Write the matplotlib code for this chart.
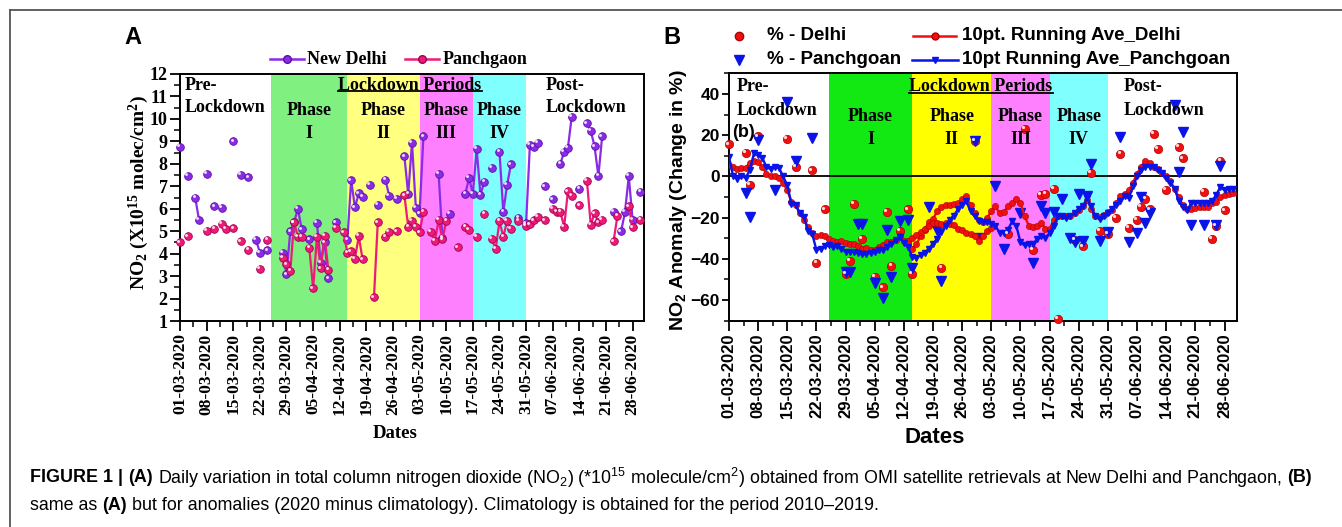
import numpy as np
import matplotlib
matplotlib.use("Agg")
import matplotlib.pyplot as plt
from matplotlib.lines import Line2D
from matplotlib.transforms import offset_copy
from matplotlib.ticker import MultipleLocator

plt.rcParams['mathtext.default'] = 'regular'
SERIF = 'Liberation Serif'
SANS = 'Liberation Sans'

# ---------------- data (day index 0 = 01-03-2020) ----------------
tick_labels = ['01-03-2020', '08-03-2020', '15-03-2020', '22-03-2020', '29-03-2020',
               '05-04-2020', '12-04-2020', '19-04-2020', '26-04-2020', '03-05-2020',
               '10-05-2020', '17-05-2020', '24-05-2020', '31-05-2020', '07-06-2020',
               '14-06-2020', '21-06-2020', '28-06-2020']
phase_names = ['I', 'II', 'III', 'IV']
phase_start = [24, 44, 63, 77]
phase_end = [44, 63, 77, 91]

# Panel A: NO2 column (x10^15 molec/cm2)
delhi_days = [0, 2, 4, 5, 7, 9, 11, 14, 16, 18, 20, 21, 23, 27, 28, 29, 30, 31, 32, 34,
              36, 37, 38, 39, 41, 44, 45, 46, 47, 48, 50, 52, 54, 55, 57, 59, 60, 61, 62, 63,
              64, 68, 69, 71, 75, 76, 77, 78, 79, 80, 82, 84, 85, 86, 87, 89, 91, 92, 93, 94,
              96, 98, 100, 101, 102, 103, 105, 107, 108, 109, 110, 111, 114, 116, 117, 118, 119, 121]
delhi_no2 = [8.75, 7.45, 6.5, 5.5, 7.55, 6.1, 6.05, 9.0, 7.5, 7.4, 4.6, 4.05, 4.15, 4.03, 3.08, 5.0, 5.4, 6.0, 5.08, 4.63,
             5.37, 3.6, 4.5, 2.9, 5.4, 4.6, 7.27, 6.06, 6.68, 6.54, 7.05, 6.17, 7.3, 6.58, 6.43, 8.33, 6.65, 8.94, 6.05, 5.8,
             9.22, 7.55, 4.7, 5.78, 6.65, 7.37, 6.66, 8.66, 6.62, 7.2, 7.83, 8.53, 5.86, 7.05, 7.97, 5.6, 5.35, 8.85, 8.77, 8.92,
             7.0, 6.42, 8.0, 8.53, 8.72, 10.1, 6.9, 9.8, 9.47, 8.78, 7.45, 9.23, 5.85, 5.0, 5.85, 7.45, 5.5, 6.75]
panch_days = [0, 2, 7, 9, 11, 12, 14, 16, 18, 21, 23, 27, 28, 29, 30, 31, 32, 34, 35, 36,
              37, 38, 39, 41, 43, 44, 45, 46, 47, 48, 51, 52, 54, 55, 57, 59, 60, 61, 62, 63,
              64, 66, 67, 68, 69, 70, 73, 75, 76, 78, 80, 82, 83, 84, 85, 86, 87, 89, 91, 92,
              93, 94, 96, 98, 99, 100, 101, 102, 103, 105, 107, 108, 109, 110, 111, 114, 115, 118, 119, 121]
panch_no2 = [4.5, 4.77, 5.02, 5.1, 5.33, 5.1, 5.12, 4.55, 4.18, 3.32, 4.6, 3.8, 3.53, 3.24, 5.4, 4.75, 4.75, 4.25, 2.45, 4.75,
             3.35, 4.8, 3.28, 5.15, 4.95, 4.05, 4.1, 3.78, 4.78, 3.75, 2.05, 5.39, 4.75, 4.98, 5.0, 6.6, 5.2, 5.45, 5.2, 4.95,
             5.85, 4.97, 4.56, 5.5, 4.63, 5.46, 4.28, 5.19, 5.05, 4.75, 5.78, 4.65, 4.2, 5.45, 4.75, 5.45, 5.1, 5.45, 5.25, 5.3,
             5.48, 5.63, 5.48, 6.0, 5.86, 5.86, 5.2, 6.78, 6.57, 6.15, 7.23, 5.28, 5.8, 5.4, 5.5, 4.55, 5.67, 6.1, 5.17, 5.5]

# Panel B: anomaly (%)
delhi_pct_days = [0, 4, 5, 7, 14, 16, 20, 21, 23, 28, 29, 30, 32, 35, 37, 38, 39, 41, 43, 44,
                  51, 59, 67, 71, 73, 75, 76, 78, 79, 83, 85, 87, 89, 91, 93, 94, 96, 98, 99, 100,
                  101, 102, 103, 105, 108, 109, 114, 116, 117, 118, 119]
delhi_pct = [15.5, 11.5, -4, 19.4, 18.2, 4.5, 2.9, -42, -16, -47.4, -41, -13.2, -30.2, -48.7, -53.9, -17.1, -43.4, -26.5, -16, -47.4,
             -44.5, 17.4, -28, 23, -35.5, -9, -8.5, -6, -69, -31, -34, 1.5, -26.5, -28, -20, 11, -25, -21, -15, -11,
             -16, 20.5, 13.3, -6.5, 14.5, 8.7, -7.5, -30.5, -24, 7.4, -16.5]
panch_pct_days = [4, 5, 7, 11, 14, 16, 20, 28, 29, 31, 32, 35, 37, 38, 39, 41, 43, 44, 48, 50,
                  51, 59, 60, 64, 66, 70, 73, 75, 76, 78, 80, 82, 83, 84, 85, 86, 87, 89, 91, 94,
                  96, 98, 99, 100, 101, 107, 108, 109, 111, 114, 117, 118]
panch_pct = [-8, -19.7, 17.7, -6.5, 36, 7.4, 18.5, -46.3, -46.3, -23.2, -23.2, -51.9, -58.9, -26, -48.7, -21.8, -21, -44.7, -15, -26,
             -51, 17.2, -30, -4.5, -35, -18, -42, -14.5, -18, -17.3, -11, -30, -32, -8.4, -31.5, -9.7, 5.8, -31.5, -27, 19,
             -32, -27.5, -10, -22.7, -17.8, 34.5, 2, 21.5, -23.5, -23.5, -23.5, 4.9]

# 10-pt running averages, one value per day 0..121
ave_delhi = [5.6, 4.5, 3.5, 4.2, 4.2, 6.5, 7.4, 6.9, 4.5, 1.3,
             0.3, 0, -0.6, -3.2, -6.8, -12.4, -14, -18, -21.3, -24.5,
             -27.7, -28.9, -28.5, -28.9, -30.6, -31.3, -31.8, -31.3, -32.3, -32.9,
             -32.9, -33.9, -35, -34.7, -35.5, -35.8, -34.5, -33.4, -31.8, -31.8,
             -31, -28.9, -31.3, -31.3, -35, -33, -29, -26, -22, -20.5,
             -17, -15, -14, -14, -13.5, -13, -11, -9.6, -14, -18,
             -21, -22, -20, -17, -14.5, -18, -17.4, -14.5, -12.9, -11,
             -12.9, -19.4, -23.9, -24.5, -23.9, -22.6, -25.5, -25.5, -21, -19.4,
             -19, -19.4, -19.4, -17.7, -16.1, -14.5, -11.3, -15.8, -19.4, -19.7,
             -18.5, -17.4, -16.1, -12.9, -9.7, -8.4, -6.8, -3.2, 1.3, 4.8,
             7.7, 6.5, 4.8, 3.5, 1.6, 0, -2.4, -6, -10, -14,
             -16, -16, -15.5, -15, -15, -15, -13, -12.5, -10, -9,
             -8.5, -8]
ave_delhi_b_days = [43, 44, 45, 46, 47, 48, 49, 50, 51, 52, 53, 54, 55, 56, 57, 58, 59, 60, 61, 62, 63]
ave_delhi_b = [-31.3, -30, -28.5, -27, -25.5, -24, -22.5, -22.5, -23, -22.6, -22.9, -23.4, -25.5, -25.8,
               -27.4, -28, -29, -31.5, -29, -26.6, -25]
ave_panch = [9.4, 0, -1.1, 0, -0.6, 2.9, 11.3, 10.2, 9, 4.5,
             3.5, 4.5, 4.2, 0, -4.4, -13.2, -13.7, -17.7, -19.7, -26.5,
             -28, -35.8, -35, -33.9, -33.4, -34.2, -33.9, -35, -36.6, -36.6,
             -36.6, -37.4, -37.9, -37.9, -37, -36.6, -35.8, -35.8, -34.2, -32.6,
             -31, -29.4, -32.3, -34.2, -39, -39.8, -38.2, -37, -35, -32.6,
             -30.2, -27, -24, -21, -19, -16, -14, -12, -17, -19.4,
             -21.8, -22.3, -22, -23, -24, -27.4, -27.4, -25.8, -21.8, -24,
             -32, -33.5, -32.6, -32.6, -30.6, -29, -29.8, -27.4, -24, -19.4,
             -19.4, -20, -19, -18, -16, -14.5, -10.5, -14.5, -19.4, -20.6,
             -19.4, -17.7, -16, -13.7, -12, -9.7, -10.5, -4.8, 0, 3.2,
             4.8, 4.8, 4.5, 3.2, 1.6, -0.8, -3.2, -6, -11.7, -15,
             -16.5, -13, -13, -13, -13, -13, -11.7, -9.2, -5, -6.8,
             -6, -6]

# ---------------- figure ----------------
W, H = 1342, 527
fig = plt.figure(figsize=(W / 100, H / 100), dpi=100)


def fx(px):
    return px / W


def fy(py):
    return 1 - py / H


axA = fig.add_axes([fx(180), fy(321), fx(644) - fx(180), fy(74) - fy(321)])
axB = fig.add_axes([fx(729), fy(320.6), fx(1237) - fx(729), fy(73.4) - fy(320.6)])

NDAYS = 122
xs = np.arange(NDAYS)


def on_days(days, vals):
    arr = np.full(NDAYS, np.nan)
    arr[np.array(days)] = vals
    return arr


def highlight(ax, x, y, ms, marker='o'):
    tr = offset_copy(ax.transData, fig=fig, x=-ms * 0.22, y=ms * 0.22, units='points')
    ax.plot(x, y, marker, ms=ms * 0.38, color='white', mec='none', alpha=0.85,
            transform=tr, zorder=6, clip_on=False)


# border of the figure page
fig.add_artist(Line2D([fx(10), 1.0], [fy(10), fy(10)], color='#555555', lw=1.3))
fig.add_artist(Line2D([fx(10), fx(10)], [fy(10), 0.0], color='#555555', lw=1.3))

# panel letters
fig.text(fx(133), fy(38), 'A', ha='center', va='center', fontsize=17, fontweight='bold', family=SANS)
fig.text(fx(672), fy(37), 'B', ha='center', va='center', fontsize=17, fontweight='bold', family=SANS)

# ---------------- Panel A ----------------
colA = ['#80F080', '#FFFF80', '#FF80FF', '#80FFFF']
for s, e, c in zip(phase_start, phase_end, colA):
    axA.axvspan(s, e, color=c, lw=0, zorder=0)

PURPLE = '#8A2BE8'
PINK = '#EE1A78'
axA.plot(xs, on_days(delhi_days, delhi_no2), '-', color=PURPLE, lw=1.6, zorder=3)
axA.plot(delhi_days, delhi_no2, 'o', color=PURPLE, mec='#5A10A0', mew=0.6, ms=5.5, zorder=4, clip_on=False)
highlight(axA, delhi_days, delhi_no2, 5.5)
axA.plot(xs, on_days(panch_days, panch_no2), '-', color=PINK, lw=1.6, zorder=4)
axA.plot(panch_days, panch_no2, 'o', color=PINK, mec='#A00050', mew=0.6, ms=5.5, zorder=5, clip_on=False)
highlight(axA, panch_days, panch_no2, 5.5)

axA.set_xlim(0, 122)
axA.set_ylim(1, 12)
axA.set_xticks(range(0, 120, 7))
axA.set_xticklabels(tick_labels, rotation=90, fontfamily=SERIF, fontweight='bold', fontsize=12.5)
axA.xaxis.set_minor_locator(MultipleLocator(3.5))
axA.set_yticks(range(1, 13))
axA.yaxis.set_minor_locator(MultipleLocator(0.5))
for lab in axA.get_yticklabels():
    lab.set_fontfamily(SERIF)
    lab.set_fontweight('bold')
    lab.set_fontsize(13)
axA.tick_params(axis='both', which='major', direction='out', length=7, width=1.3, pad=2, color='black')
axA.tick_params(axis='both', which='minor', direction='out', length=4, width=1.1)
for sp in axA.spines.values():
    sp.set_linewidth(1.4)
axA.set_ylabel('NO$_2$ (X10$^{15}$ molec/cm$^2$)', fontfamily=SERIF, fontweight='bold', fontsize=14)
axA.yaxis.set_label_coords(-0.063, 0.52)
axA.set_xlabel('Dates', fontfamily=SERIF, fontweight='bold', fontsize=13.5)
axA.xaxis.set_label_coords(0.463, -0.42)

tA = axA.get_xaxis_transform()
txtA = dict(fontfamily=SERIF, fontweight='bold', fontsize=13, zorder=7)
axA.text(0.011, 0.953, 'Pre-', transform=axA.transAxes, ha='left', va='center', **txtA)
axA.text(0.011, 0.866, 'Lockdown', transform=axA.transAxes, ha='left', va='center', **txtA)
axA.text(0.787, 0.953, 'Post-', transform=axA.transAxes, ha='left', va='center', **txtA)
axA.text(0.787, 0.866, 'Lockdown', transform=axA.transAxes, ha='left', va='center', **txtA)
for s, e, nm in zip(phase_start, phase_end, phase_names):
    axA.text((s + e) / 2, 0.854, 'Phase', transform=tA, ha='center', va='center', **txtA)
    axA.text((s + e) / 2, 0.761, nm, transform=tA, ha='center', va='center', **txtA)
lpA = axA.text(60.5, 0.955, 'Lockdown Periods', transform=tA, ha='center', va='center', **txtA)

# legend A
for (x0, x1, tx, col, ec, lab) in [(270, 304, 307, PURPLE, '#5A10A0', 'New Delhi'),
                                   (405, 439, 443, PINK, '#A00050', 'Panchgaon')]:
    fig.add_artist(Line2D([fx(x0), fx(x1)], [fy(59), fy(59)], color=col, lw=1.8))
    fig.add_artist(Line2D([fx((x0 + x1) / 2)], [fy(59)], marker='o', color=col, mec=ec, ms=5.5, lw=0))
    fig.text(fx(tx), fy(59), lab, ha='left', va='center', fontfamily=SERIF, fontweight='bold', fontsize=13)

# ---------------- Panel B ----------------
colB = ['#12E812', '#FFFF00', '#FF80FF', '#80FFFF']
for s, e, c in zip(phase_start, phase_end, colB):
    axB.axvspan(s, e, color=c, lw=0, zorder=0)
axB.axhline(0, color='black', lw=1.3, zorder=1)

RED = '#F01010'
BLUE = '#0A14E6'
axB.plot(delhi_pct_days, delhi_pct, 'o', color=RED, mec='#B00000', mew=0.5, ms=6, zorder=3, clip_on=False)
highlight(axB, delhi_pct_days, delhi_pct, 6)
axB.plot(panch_pct_days, panch_pct, 'v', color=BLUE, mec=BLUE, ms=7, zorder=3, clip_on=False)

axB.plot(xs, ave_delhi, '-o', color=RED, lw=1.7, ms=4.5, mec='#B00000', mew=0.4, zorder=4)
axB.plot(ave_delhi_b_days, ave_delhi_b, '-o', color=RED, lw=1.7, ms=4.5, mec='#B00000', mew=0.4, zorder=4)
axB.plot(xs, ave_panch, '-v', color=BLUE, lw=1.7, ms=4, zorder=5)

axB.set_xlim(0, 122)
axB.set_ylim(-70, 50)
axB.set_xticks(range(0, 120, 7))
axB.set_xticklabels(tick_labels, rotation=90, fontfamily=SANS, fontweight='bold', fontsize=12)
axB.xaxis.set_minor_locator(MultipleLocator(3.5))
axB.set_yticks([-60, -40, -20, 0, 20, 40])
axB.yaxis.set_minor_locator(MultipleLocator(10))
for lab in axB.get_yticklabels():
    lab.set_fontfamily(SANS)
    lab.set_fontweight('bold')
    lab.set_fontsize(12.5)
axB.tick_params(axis='x', which='major', direction='out', length=7, width=1.3, pad=2)
axB.tick_params(axis='y', which='major', direction='out', length=5, width=1.3, pad=1.5)
axB.tick_params(axis='both', which='minor', direction='out', length=3.5, width=1.1)
for sp in axB.spines.values():
    sp.set_linewidth(1.4)
axB.set_ylabel('NO$_2$ Anomaly (Change in %)', fontfamily=SANS, fontweight='bold', fontsize=14)
axB.yaxis.set_label_coords(-0.078, 0.488)
axB.set_xlabel('Dates', fontfamily=SANS, fontweight='bold', fontsize=16)
axB.xaxis.set_label_coords(0.405, -0.432)

tB = axB.get_xaxis_transform()
axB.text(0.015, 0.946, 'Pre-', transform=axB.transAxes, ha='left', va='center', **txtA)
axB.text(0.015, 0.849, 'Lockdown', transform=axB.transAxes, ha='left', va='center', **txtA)
axB.text(0.006, 0.759, '(b)', transform=axB.transAxes, ha='left', va='center',
         fontfamily=SANS, fontweight='bold', fontsize=13, zorder=7)
axB.text(0.776, 0.949, 'Post-', transform=axB.transAxes, ha='left', va='center', **txtA)
axB.text(0.776, 0.848, 'Lockdown', transform=axB.transAxes, ha='left', va='center', **txtA)
for s, e, nm in zip(phase_start, phase_end, phase_names):
    axB.text((s + e) / 2, 0.825, 'Phase', transform=tB, ha='center', va='center', **txtA)
    axB.text((s + e) / 2, 0.732, nm, transform=tB, ha='center', va='center', **txtA)
lpB = axB.text(60.5, 0.946, 'Lockdown Periods', transform=tB, ha='center', va='center', **txtA)

# legend B
legB = dict(ha='left', va='center', fontfamily=SANS, fontweight='bold', fontsize=13.5)
fig.add_artist(Line2D([fx(739)], [fy(36)], marker='o', color=RED, mec='#B00000', ms=6, lw=0))
fig.text(fx(767), fy(36), '% - Delhi', **legB)
fig.add_artist(Line2D([fx(913), fx(956)], [fy(36), fy(36)], color=RED, lw=1.8))
fig.add_artist(Line2D([fx(934.5)], [fy(36)], marker='o', color=RED, mec='#B00000', ms=5, lw=0))
fig.text(fx(962), fy(36), '10pt. Running Ave_Delhi', **legB)
fig.add_artist(Line2D([fx(739)], [fy(60)], marker='v', color=BLUE, ms=7, lw=0))
fig.text(fx(767), fy(60), '% - Panchgoan', **legB)
fig.add_artist(Line2D([fx(912), fx(958)], [fy(60), fy(60)], color=BLUE, lw=1.8))
fig.add_artist(Line2D([fx(935)], [fy(60)], marker='v', color=BLUE, ms=4, lw=0))
fig.text(fx(962), fy(60), '10pt Running Ave_Panchgoan', **legB)

# ---------------- underline + caption ----------------
fig.canvas.draw()
renderer = fig.canvas.get_renderer()
for t in (lpA, lpB):
    bb = t.get_window_extent(renderer)
    yline = bb.y0 + 2.5
    fig.add_artist(Line2D([bb.x0 / W, bb.x1 / W], [yline / H, yline / H], color='black', lw=1.3))


def text_width(s, size, weight):
    t = fig.text(0, 0, s, fontsize=size, fontweight=weight, family=SANS)
    w = t.get_window_extent(renderer).width
    t.remove()
    return w


def rich_line(pieces, x0, y, size, draw=True):
    gap = text_width('x x', size, 'normal') - text_width('xx', size, 'normal')
    x = x0
    for i, (s, w) in enumerate(pieces):
        if i > 0:
            x += gap
        t = fig.text(x / W, fy(y), s, fontsize=size, fontweight=w, family=SANS, ha='left', va='center')
        wdt = t.get_window_extent(renderer).width
        if not draw:
            t.remove()
        x += wdt
    return x


cap1 = [('FIGURE 1 |', 'bold'), ('(A)', 'bold'),
        ('Daily variation in total column nitrogen dioxide (NO$_2$) (*10$^{15}$ molecule/cm$^2$) '
         'obtained from OMI satellite retrievals at New Delhi and Panchgaon,', 'normal'),
        ('(B)', 'bold')]
cap2 = [('same as', 'normal'), ('(A)', 'bold'),
        ('but for anomalies (2020 minus climatology). Climatology is obtained for the period 2010\u20132019.', 'normal')]

base = 11.0
end = rich_line(cap1, 30, 478, base, draw=False)
size = base * (1310 - 30) / (end - 30)
rich_line(cap1, 30, 478, size)
rich_line(cap2, 30, 506, size)

fig.savefig('out.png', dpi=100)
